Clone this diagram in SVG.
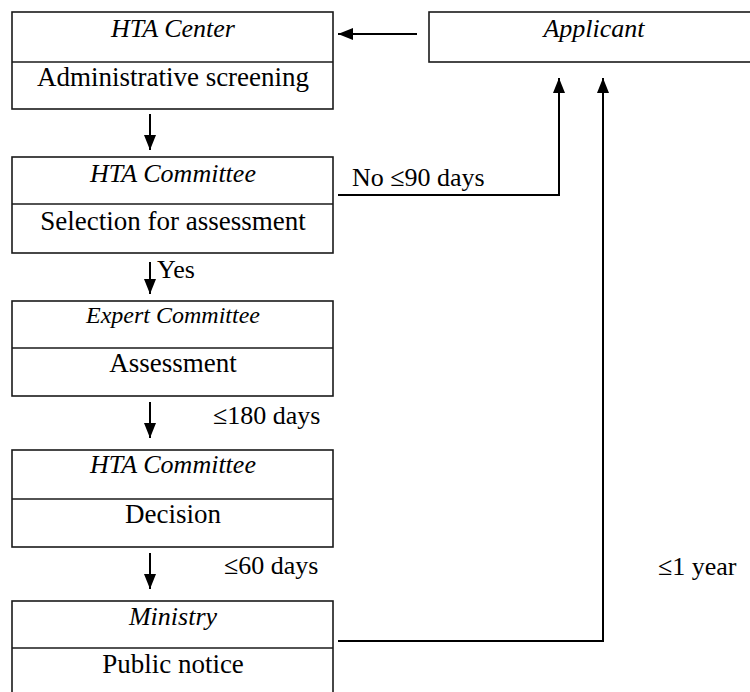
<svg xmlns="http://www.w3.org/2000/svg" width="750" height="692" viewBox="0 0 750 692" font-family="'Liberation Serif', 'Times New Roman', Times, serif">
<defs>
<style>
.box{fill:#fff;stroke:#1a1a1a;stroke-width:1.6}
.div{stroke:#1a1a1a;stroke-width:1.4}
text{font-family:'Liberation Serif','Times New Roman',Times,serif;fill:#000}
.t{font-size:26px;text-anchor:middle}
.b{font-size:27px;text-anchor:middle}
.s{font-size:24px;text-anchor:middle}
.i{font-style:italic}
.lab{font-size:26px}
.c{fill:none;stroke:#000;stroke-width:2}
</style>
<marker id="ah" markerUnits="userSpaceOnUse" markerWidth="16" markerHeight="14" viewBox="0 0 16 14" refX="15" refY="7" orient="auto">
<path d="M0,1 L15,7 L0,13 z" fill="#000"/>
</marker>
</defs>
<g id="hta-center">
<rect class="box" x="12" y="12" width="321" height="97"/>
<line class="div" x1="12" y1="62" x2="333" y2="62"/>
<text class="t i" x="173" y="37">HTA Center</text>
<text class="b" x="173" y="86">Administrative screening</text>
</g>
<g id="applicant">
<rect class="box" x="429" y="12" width="330" height="50"/>
<text class="t i" x="594" y="37">Applicant</text>
</g>
<g id="hta-committee-selection">
<rect class="box" x="12" y="157" width="321" height="96"/>
<line class="div" x1="12" y1="204" x2="333" y2="204"/>
<text class="t i" x="173" y="182">HTA Committee</text>
<text class="b" x="173" y="230">Selection for assessment</text>
</g>
<g id="expert-committee">
<rect class="box" x="12" y="301" width="321" height="95"/>
<line class="div" x1="12" y1="348" x2="333" y2="348"/>
<text class="s i" x="173" y="323">Expert Committee</text>
<text class="b" x="173" y="372">Assessment</text>
</g>
<g id="hta-committee-decision">
<rect class="box" x="12" y="450" width="321" height="97"/>
<line class="div" x1="12" y1="499" x2="333" y2="499"/>
<text class="t i" x="173" y="473">HTA Committee</text>
<text class="b" x="173" y="523">Decision</text>
</g>
<g id="ministry">
<rect class="box" x="12" y="601" width="321" height="95"/>
<line class="div" x1="12" y1="648" x2="333" y2="648"/>
<text class="t i" x="173" y="625">Ministry</text>
<text class="b" x="173" y="673">Public notice</text>
</g>
<g id="connectors">
<line class="c" x1="417" y1="34" x2="338" y2="34" marker-end="url(#ah)"/>
<line class="c" x1="150" y1="114" x2="150" y2="150" marker-end="url(#ah)"/>
<line class="c" x1="150" y1="262" x2="150" y2="294" marker-end="url(#ah)"/>
<line class="c" x1="150" y1="402" x2="150" y2="438" marker-end="url(#ah)"/>
<line class="c" x1="150" y1="553" x2="150" y2="589" marker-end="url(#ah)"/>
<polyline class="c" points="338,195 559,195 559,78" marker-end="url(#ah)"/>
<polyline class="c" points="338,641 603,641 603,78" marker-end="url(#ah)"/>
<text class="lab" x="352" y="186">No ≤90 days</text>
<text class="lab" x="157" y="278">Yes</text>
<text class="lab" x="213" y="424">≤180 days</text>
<text class="lab" x="224" y="574">≤60 days</text>
<text class="lab" x="658" y="575">≤1 year</text>
</g>
</svg>
